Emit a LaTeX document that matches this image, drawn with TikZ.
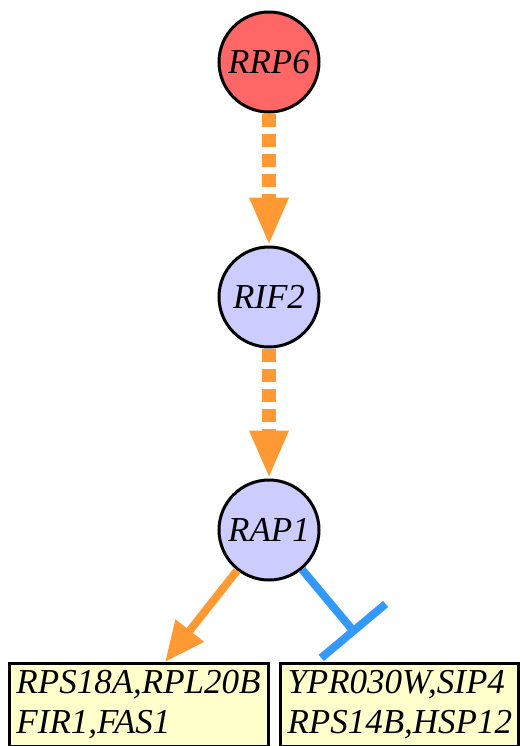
\documentclass[tikz,border=0pt]{standalone}
\usepackage{fontspec}
\setmainfont{Liberation Serif}
\usepackage{xcolor}
\usetikzlibrary{arrows.meta}

\definecolor{genered}{HTML}{FF6666}
\definecolor{geneblue}{HTML}{CCCCFF}
\definecolor{boxyellow}{HTML}{FFFFCC}
\definecolor{actorange}{HTML}{FF9933}
\definecolor{repblue}{HTML}{3399FF}

\begin{document}
\begin{tikzpicture}[x=0.5pt,y=-0.5pt,
	gene/.style={circle,draw,line width=1.5pt,minimum size=50pt,inner sep=0pt,font=\fontsize{17.5}{20}\selectfont\itshape},
	group/.style={draw,line width=1.5pt,fill=boxyellow,anchor=north west,align=left,inner sep=3.5pt,font=\fontsize{17.5}{20}\selectfont\itshape},
	indirect/.style={actorange,line width=7pt,dash pattern=on 6.5pt off 3.5pt,-{Triangle[length=24pt,width=18pt]}},
	activ/.style={actorange,line width=4pt,-{Triangle[length=20pt,width=17pt]}},
	repress/.style={repblue,line width=4pt,-{Bar[width=42pt]}}]
	\useasboundingbox (0,0) rectangle (520,746);
	\node[gene,fill=genered] (rrp6) at (269,62) {RRP6};
	\node[gene,fill=geneblue] (rif2) at (269,297) {RIF2};
	\node[gene,fill=geneblue] (rap1) at (269,530) {RAP1};
	\node[group,text width=122.5pt,minimum height=40.5pt] (grpa) at (8,662) {RPS18A,RPL20B\\FIR1,FAS1};
	\node[group,text width=112pt,minimum height=40.5pt] (grpb) at (279,662) {YPR030W,SIP4\\RPS14B,HSP12};
	\coordinate (tbar) at (356,634);
	\draw[indirect] (rrp6) -- (rif2);
	\draw[indirect] (rif2) -- (rap1);
	\draw[activ] (rap1) -- (grpa.north -| 165,0);
	\draw[repress] (rap1) -- (tbar);
\end{tikzpicture}
\end{document}
